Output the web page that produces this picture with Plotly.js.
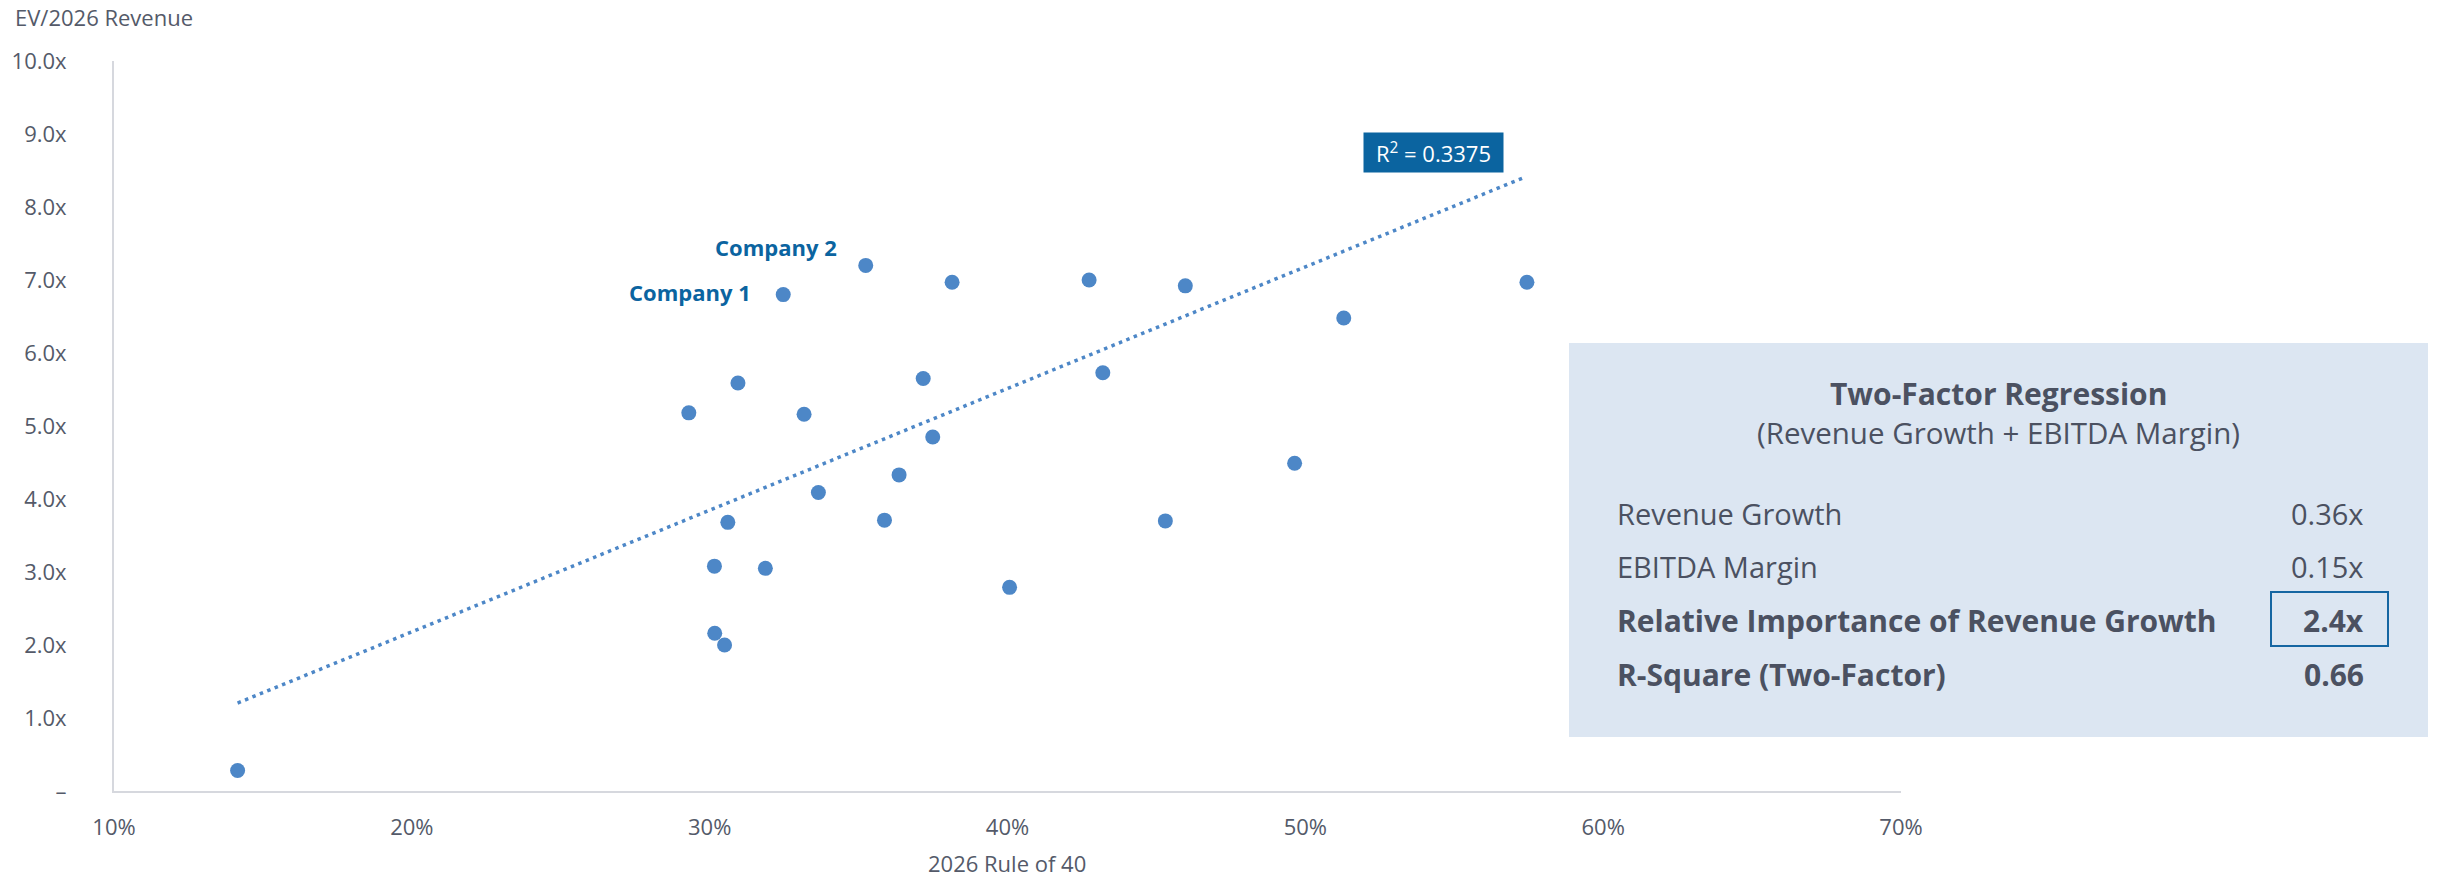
<!DOCTYPE html>
<html>
<head>
<meta charset="utf-8">
<script src="https://cdn.plot.ly/plotly-3.0.1.min.js"></script>
<style>
html,body{margin:0;padding:0;background:#fff;}
#chart{width:2437px;height:877px;}
</style>
</head>
<body>
<div id="chart"></div>
<script>
// ---------- Data ----------
const ruleOf40 = [14.15, 32.47, 35.24, 38.14, 42.74, 45.97, 30.95, 37.17, 43.20, 29.30,
                  33.17, 37.49, 49.64, 36.36, 33.65, 30.61, 35.87, 45.30, 30.16, 31.87,
                  40.07, 30.17, 30.50, 57.44, 51.29];
const evRevenue = [0.28, 6.80, 7.20, 6.97, 7.00, 6.92, 5.59, 5.65, 5.73, 5.18,
                   5.16, 4.85, 4.49, 4.33, 4.09, 3.68, 3.71, 3.70, 3.08, 3.05,
                   2.79, 2.16, 2.00, 6.97, 6.48];
const labelNames = ["Company 1", "Company 2"];
const labelX = [32.47, 35.24];
const labelY = [6.80, 7.20];
const trendX = [14.15, 57.32];
const trendY = [1.205, 8.40];
const rSquaredText = "R<sup>2</sup> = 0.3375";
const yTickVals = [0,1,2,3,4,5,6,7,8,9,10];
const yTickText = ["–","1.0x","2.0x","3.0x","4.0x","5.0x","6.0x","7.0x","8.0x","9.0x","10.0x"];
const xTickVals = [10,20,30,40,50,60,70];
const xTickText = ["10%","20%","30%","40%","50%","60%","70%"];
const boxTitle = "Two-Factor Regression";
const boxSubtitle = "(Revenue Growth + EBITDA Margin)";
const boxRowLabels = ["Revenue Growth","EBITDA Margin","Relative Importance of Revenue Growth","R-Square (Two-Factor)"];
const boxRowValues = ["0.36x","0.15x","2.4x","0.66"];
const boxRowBold = [false,false,true,true];

// ---------- Geometry helpers (pixels -> paper) ----------
const W = 2437, H = 877;
const L = 114, R = 1901, T = 61, B = 791;
const px = v => (v - L) / (R - L);
const py = v => (B - v) / (B - T);

const FONT = "'Segoe UI', 'Open Sans', 'Noto Sans', sans-serif";
const TXT = "#545a69";
const BOXTXT = "#4b5161";
const BLUE = "#4d87c7";
const DARKBLUE = "#0b64a0";

const traces = [
  {
    type: "scatter", mode: "lines",
    x: trendX, y: trendY,
    line: {color: BLUE, width: 3.5, dash: "3.5px,4.5px"},
    hoverinfo: "skip", showlegend: false
  },
  {
    type: "scatter", mode: "markers",
    x: ruleOf40, y: evRevenue,
    marker: {color: BLUE, size: 15, line: {width: 0}},
    hoverinfo: "skip", showlegend: false
  }
];

const annotations = [];
// y-axis title
annotations.push({xref:"paper", yref:"paper", x:px(13), y:py(17), xanchor:"left", yanchor:"middle",
  text:"EV/2026 Revenue", showarrow:false, font:{family:FONT, size:22, color:TXT}});
// x-axis title
annotations.push({xref:"paper", yref:"paper", x:px(1007), y:py(863), xanchor:"center", yanchor:"middle",
  text:"2026 Rule of 40", showarrow:false, height:24, font:{family:FONT, size:22, color:TXT}});
// company labels
const labelShiftX = [-30, -27];
const labelShiftY = [3, 18];
labelNames.forEach((n,i)=>{
  annotations.push({xref:"x", yref:"y", x:labelX[i], y:labelY[i], xanchor:"right", yanchor:"middle",
    xshift:labelShiftX[i], yshift:labelShiftY[i], text:"<b>"+n+"</b>", showarrow:false,
    font:{family:FONT, size:22, color:DARKBLUE}});
});
// R^2 label
annotations.push({xref:"paper", yref:"paper", x:px(1433.5), y:py(152), xanchor:"center", yanchor:"middle",
  text:rSquaredText, showarrow:false, bgcolor:DARKBLUE, borderpad:0, width:139, height:39,
  font:{family:FONT, size:22, color:"#ffffff"}});
// box title / subtitle
annotations.push({xref:"paper", yref:"paper", x:px(1998.5), y:py(393), xanchor:"center", yanchor:"middle",
  text:"<b>"+boxTitle+"</b>", showarrow:false, font:{family:FONT, size:30, color:BOXTXT}});
annotations.push({xref:"paper", yref:"paper", x:px(1998.5), y:py(432), xanchor:"center", yanchor:"middle",
  text:boxSubtitle, showarrow:false, font:{family:FONT, size:29.5, color:BOXTXT}});
// box rows
const rowCenters = [513, 566, 620, 674];
boxRowLabels.forEach((lab,i)=>{
  const b = boxRowBold[i];
  const sz = b ? 30 : 29;
  annotations.push({xref:"paper", yref:"paper", x:px(1615), y:py(rowCenters[i]), xanchor:"left", yanchor:"middle",
    text: b ? "<b>"+lab+"</b>" : lab, showarrow:false, font:{family:FONT, size:sz, color:BOXTXT}});
  annotations.push({xref:"paper", yref:"paper", x:px(2366), y:py(rowCenters[i]), xanchor:"right", yanchor:"middle",
    text: b ? "<b>"+boxRowValues[i]+"</b>" : boxRowValues[i], showarrow:false, font:{family:FONT, size:sz, color:BOXTXT}});
});

const shapes = [
  {type:"rect", xref:"paper", yref:"paper", x0:px(1569), x1:px(2428), y0:py(737), y1:py(343),
   fillcolor:"#dce6f2", line:{width:0}, layer:"below"},
  {type:"rect", xref:"paper", yref:"paper", x0:px(2271), x1:px(2388), y0:py(646), y1:py(592),
   fillcolor:"rgba(0,0,0,0)", line:{color:"#1566a2", width:2}, layer:"above"}
];

const layout = {
  width: W, height: H,
  margin: {l: L, r: W - R, t: T, b: H - B, pad: 0},
  paper_bgcolor: "#ffffff", plot_bgcolor: "rgba(0,0,0,0)",
  showlegend: false,
  font: {family: FONT, color: TXT},
  xaxis: {
    range: [10, 70], tickvals: xTickVals, ticktext: xTickText,
    showgrid: false, zeroline: false,
    showline: true, linecolor: "#d6d8de", linewidth: 2,
    ticks: "outside", ticklen: 16, tickcolor: "rgba(0,0,0,0)",
    tickfont: {family: FONT, size: 22, color: TXT},
    automargin: false, fixedrange: true
  },
  yaxis: {
    range: [0, 10], tickvals: yTickVals, ticktext: yTickText,
    showgrid: false, zeroline: false,
    showline: true, linecolor: "#d6d8de", linewidth: 2,
    ticks: "outside", ticklen: 41, tickcolor: "rgba(0,0,0,0)",
    tickfont: {family: FONT, size: 22, color: TXT},
    automargin: false, fixedrange: true
  },
  annotations: annotations,
  shapes: shapes,
  hovermode: false
};

Plotly.newPlot("chart", traces, layout, {displayModeBar: false, staticPlot: true});
</script>
</body>
</html>
